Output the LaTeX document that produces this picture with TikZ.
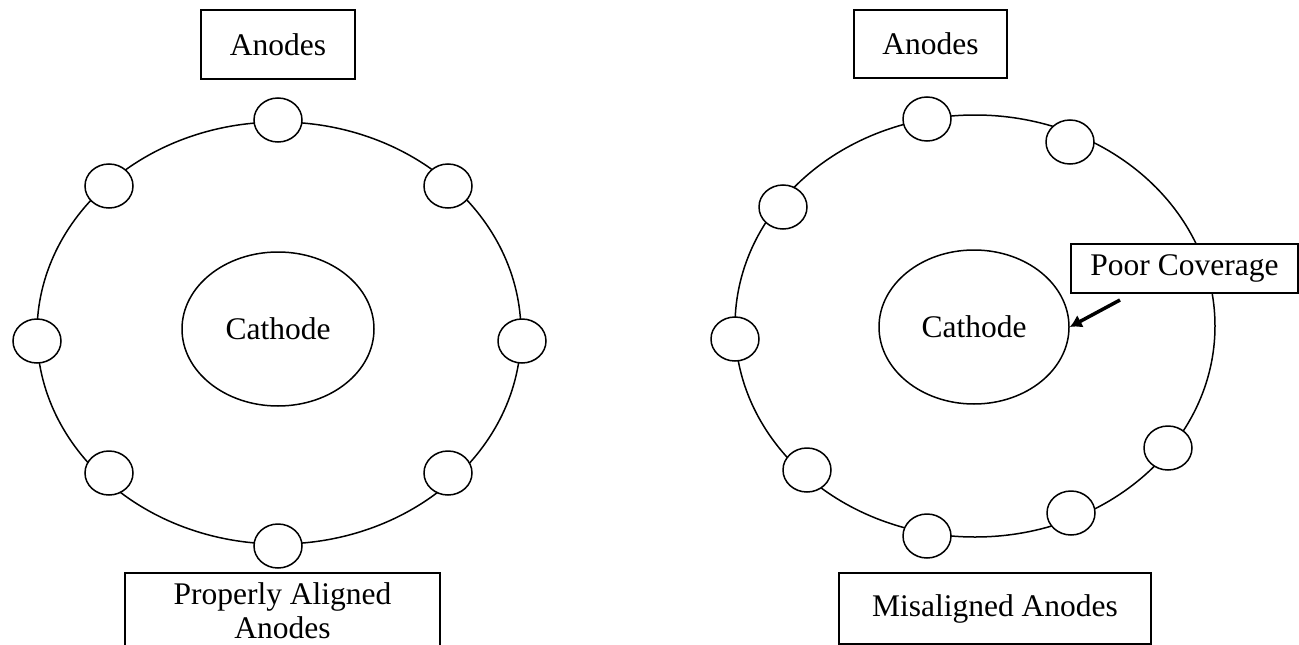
\documentclass[tikz,border=0pt]{standalone}
\usepackage{fontspec}
\setmainfont{Liberation Serif}
\usetikzlibrary{shapes.geometric,arrows.meta,backgrounds}
\tikzset{
  every node/.style={font=\fontsize{31.5}{36}\selectfont},
  anode/.style={ellipse, draw, fill=white, line width=1.5pt, minimum width=48pt, minimum height=44pt, inner sep=0pt},
  ringline/.style={draw, line width=1.5pt},
  labelbox/.style={draw, fill=white, line width=1.8pt, inner sep=0pt},
  cath/.style={ellipse, draw, line width=1.5pt, inner sep=0pt},
  pointer/.style={line width=3.5pt, -{Latex[length=12pt,width=14pt]}}
}
\begin{document}
\begin{tikzpicture}[x=1pt,y=-1pt]
\useasboundingbox (0,0) rectangle (1299,645);
% ---------- left diagram ----------
\node[cath, minimum width=192pt, minimum height=154pt] (cathL) at (278,329) {Cathode};
\node[anode] (l1) at (278,120) {};
\node[anode] (l2) at (448,186) {};
\node[anode] (l3) at (522,341) {};
\node[anode] (l4) at (448,473) {};
\node[anode] (l5) at (278,546) {};
\node[anode] (l6) at (109,473) {};
\node[anode] (l7) at (37,341) {};
\node[anode] (l8) at (109,186) {};
\begin{scope}[on background layer]
  \draw[ringline] (279,333) ellipse [x radius=242, y radius=211];
\end{scope}
\node[labelbox, minimum width=154pt, minimum height=69pt] (anodesL) at (278,44.5) {Anodes};
\node[labelbox, minimum width=315pt, minimum height=76pt, align=center, font=\fontsize{31.5}{34}\selectfont] (properL) at (282.5,611) {Properly Aligned\\Anodes};
% ---------- right diagram ----------
\node[cath, minimum width=190pt, minimum height=154pt] (cathR) at (974,327) {Cathode};
\node[anode] (r1) at (927,119) {};
\node[anode] (r2) at (1070,142) {};
\node[anode] (r3) at (1168,448) {};
\node[anode] (r4) at (1071,513) {};
\node[anode] (r5) at (927,536) {};
\node[anode] (r6) at (807,470) {};
\node[anode] (r7) at (735,339) {};
\node[anode] (r8) at (783,207) {};
\begin{scope}[on background layer]
  \draw[ringline] (975,326) ellipse [x radius=240, y radius=211];
\end{scope}
\node[labelbox, minimum width=153pt, minimum height=68pt] (anodesR) at (930.5,44) {Anodes};
\node[labelbox, minimum width=312pt, minimum height=71pt] (misR) at (995,608.5) {Misaligned Anodes};
\node[labelbox, minimum width=227pt, minimum height=49pt] (poor) at (1184.5,268.5) {Poor Coverage};
\coordinate (pstart) at (1120,300);
\draw[pointer] (pstart) -- (cathR.east);
\end{tikzpicture}
\end{document}
